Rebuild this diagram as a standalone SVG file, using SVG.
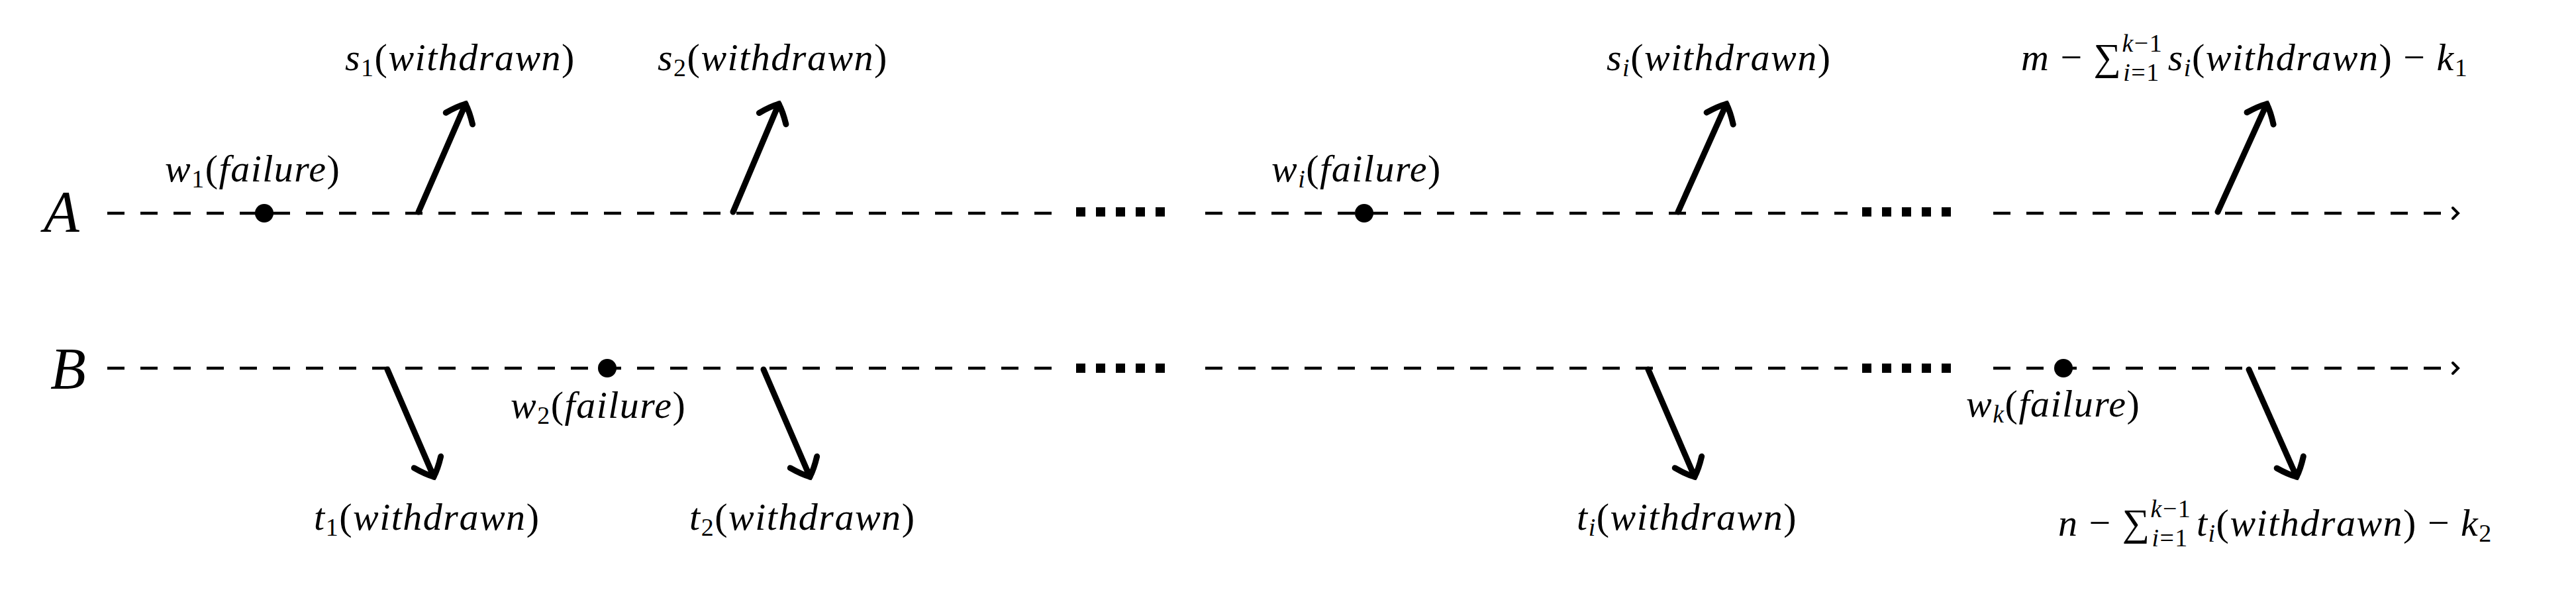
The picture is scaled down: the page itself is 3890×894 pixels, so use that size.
<svg xmlns="http://www.w3.org/2000/svg" width="3890" height="894" viewBox="0 0 3890 894">
<defs>
<style>
.t{font-family:"Liberation Serif","DejaVu Serif",serif;font-style:italic;font-size:58px;letter-spacing:1.5px;fill:#000}
.u{font-style:normal}
.big{font-size:88px}
.d{stroke:#000;stroke-width:4.5;stroke-dasharray:26 24;fill:none}
.ar{stroke:#000;stroke-width:9;fill:none;stroke-linecap:round;marker-end:url(#h)}
.dot{fill:#000}
</style>
<marker id="h" markerUnits="userSpaceOnUse" viewBox="-30 -30 40 60" refX="0" refY="0" markerWidth="40" markerHeight="60" orient="auto">
<path d="M-24,-22 Q-8,-10 0,0 Q-8,10 -24,22" fill="none" stroke="#000" stroke-width="9" stroke-linecap="round"/>
</marker>
<marker id="o" markerUnits="userSpaceOnUse" viewBox="-14 -10 18 20" refX="0" refY="0" markerWidth="18" markerHeight="20" orient="auto">
<path d="M-8,-8 Q-2,-2 0,0 Q-2,2 -8,8" fill="none" stroke="#000" stroke-width="4" stroke-linecap="round"/>
</marker>
</defs>
<g id="connectors">
<path class="d" d="M162,322 H1600" />
<path class="d" d="M1820,322 H2790" />
<path class="d" d="M3010,322 H3712" marker-end="url(#o)"/>
<path class="d" d="M162,556 H1600" />
<path class="d" d="M1820,556 H2790" />
<path class="d" d="M3010,556 H3712" marker-end="url(#o)"/>
<g fill="#000">
<rect x="1625" y="313" width="14" height="14"/><rect x="1655" y="313" width="14" height="14"/><rect x="1685" y="313" width="14" height="14"/><rect x="1715" y="313" width="14" height="14"/><rect x="1745" y="313" width="14" height="14"/>
<rect x="1625" y="549" width="14" height="14"/><rect x="1655" y="549" width="14" height="14"/><rect x="1685" y="549" width="14" height="14"/><rect x="1715" y="549" width="14" height="14"/><rect x="1745" y="549" width="14" height="14"/>
<rect x="2812" y="313" width="14" height="14"/><rect x="2842" y="313" width="14" height="14"/><rect x="2872" y="313" width="14" height="14"/><rect x="2902" y="313" width="14" height="14"/><rect x="2932" y="313" width="14" height="14"/>
<rect x="2812" y="549" width="14" height="14"/><rect x="2842" y="549" width="14" height="14"/><rect x="2872" y="549" width="14" height="14"/><rect x="2902" y="549" width="14" height="14"/><rect x="2932" y="549" width="14" height="14"/>
</g>
<path class="ar" d="M632,320 L703,157"/>
<path class="ar" d="M1107,320 L1176,157"/>
<path class="ar" d="M2534,320 L2607,157"/>
<path class="ar" d="M3349,320 L3423,157"/>
<path class="ar" d="M585,558 L655,720"/>
<path class="ar" d="M1153,558 L1223,720"/>
<path class="ar" d="M2489,558 L2559,720"/>
<path class="ar" d="M3396,558 L3468,720"/>
</g>
<g id="nodeA"><text class="t big" x="66" y="349">A</text></g>
<g id="nodeB"><text class="t big" x="76" y="586">B</text></g>
<g id="w1"><circle class="dot" cx="399" cy="322" r="14"/><text class="t" x="249" y="274">w<tspan class="u" font-size="38" dy="9">1</tspan><tspan class="u" dy="-9">(</tspan>failure<tspan class="u">)</tspan></text></g>
<g id="wi"><circle class="dot" cx="2060" cy="322" r="14"/><text class="t" x="1920" y="274">w<tspan font-size="38" dy="9">i</tspan><tspan class="u" dy="-9">(</tspan>failure<tspan class="u">)</tspan></text></g>
<g id="w2"><circle class="dot" cx="917" cy="556" r="14"/><text class="t" x="771" y="631">w<tspan class="u" font-size="38" dy="9">2</tspan><tspan class="u" dy="-9">(</tspan>failure<tspan class="u">)</tspan></text></g>
<g id="wk"><circle class="dot" cx="3116" cy="556" r="14"/><text class="t" x="2969" y="629">w<tspan font-size="38" dy="9">k</tspan><tspan class="u" dy="-9">(</tspan>failure<tspan class="u">)</tspan></text></g>
<g id="s1"><text class="t" x="521" y="106">s<tspan class="u" font-size="38" dy="9">1</tspan><tspan class="u" dy="-9">(</tspan>withdrawn<tspan class="u">)</tspan></text></g>
<g id="s2"><text class="t" x="993" y="106">s<tspan class="u" font-size="38" dy="9">2</tspan><tspan class="u" dy="-9">(</tspan>withdrawn<tspan class="u">)</tspan></text></g>
<g id="si"><text class="t" x="2426" y="106">s<tspan font-size="38" dy="9">i</tspan><tspan class="u" dy="-9">(</tspan>withdrawn<tspan class="u">)</tspan></text></g>
<g id="t1"><text class="t" x="474" y="800">t<tspan class="u" font-size="38" dy="9">1</tspan><tspan class="u" dy="-9">(</tspan>withdrawn<tspan class="u">)</tspan></text></g>
<g id="t2"><text class="t" x="1041" y="800">t<tspan class="u" font-size="38" dy="9">2</tspan><tspan class="u" dy="-9">(</tspan>withdrawn<tspan class="u">)</tspan></text></g>
<g id="ti"><text class="t" x="2381" y="800">t<tspan font-size="38" dy="9">i</tspan><tspan class="u" dy="-9">(</tspan>withdrawn<tspan class="u">)</tspan></text></g>
<g id="mlast"><text class="t" x="3052" y="106">m <tspan class="u">− ∑</tspan><tspan font-size="38" dy="-28">k</tspan><tspan class="u" font-size="38">−1</tspan><tspan font-size="38" dx="-60" dy="44">i</tspan><tspan class="u" font-size="38">=1</tspan><tspan dx="12" dy="-16">s</tspan><tspan font-size="38" dy="9">i</tspan><tspan class="u" dy="-9">(</tspan>withdrawn<tspan class="u">) − </tspan>k<tspan class="u" font-size="38" dy="9">1</tspan></text></g>
<g id="nlast"><text class="t" x="3108" y="809">n <tspan class="u">− ∑</tspan><tspan font-size="38" dy="-28">k</tspan><tspan class="u" font-size="38">−1</tspan><tspan font-size="38" dx="-60" dy="44">i</tspan><tspan class="u" font-size="38">=1</tspan><tspan dx="12" dy="-16">t</tspan><tspan font-size="38" dy="9">i</tspan><tspan class="u" dy="-9">(</tspan>withdrawn<tspan class="u">) − </tspan>k<tspan class="u" font-size="38" dy="9">2</tspan></text></g>
</svg>
